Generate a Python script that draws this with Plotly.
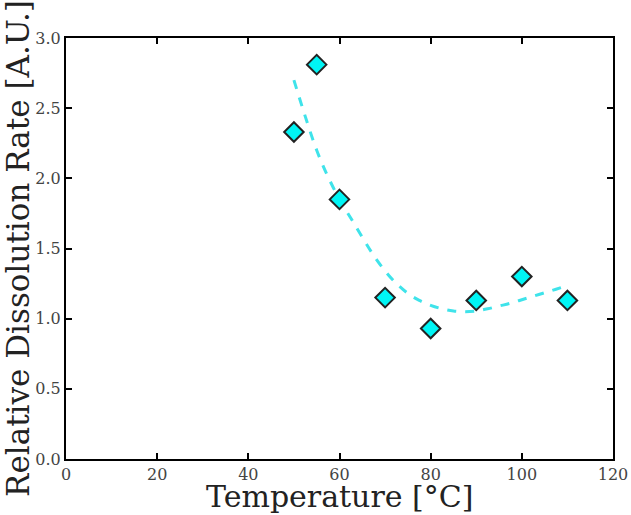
import plotly.graph_objects as go

temps = [50, 55, 60, 70, 80, 90, 100, 110]
rates = [2.33, 2.81, 1.85, 1.15, 0.93, 1.13, 1.30, 1.13]

fit_x = [50, 52.5, 55, 57.5, 60, 62.5, 65, 67.5, 70, 72.5, 75, 77.5, 80,
         82.5, 85, 87.5, 90, 92.5, 95, 97.5, 100, 102.5, 105, 107.5, 110]
fit_y = [2.70, 2.44, 2.20, 2.01, 1.85, 1.715, 1.58, 1.45, 1.34, 1.25, 1.18, 1.13, 1.095,
         1.07, 1.055, 1.05, 1.055, 1.07, 1.09, 1.11, 1.135, 1.16, 1.185, 1.21, 1.235]

x_ticks = [0, 20, 40, 60, 80, 100, 120]
y_ticks = [0.0, 0.5, 1.0, 1.5, 2.0, 2.5, 3.0]

x_title = "Temperature [°C]"
y_title = "Relative Dissolution Rate [A.U.]"

fig = go.Figure()
fig.add_trace(go.Scatter(
    x=fit_x, y=fit_y, mode="lines",
    line=dict(color="#3fe3ea", width=3, dash="dash", shape="spline"),
    hoverinfo="skip", showlegend=False))
fig.add_trace(go.Scatter(
    x=temps, y=rates, mode="markers",
    marker=dict(symbol="diamond", size=15, color="#00f5f5",
                line=dict(color="#222222", width=2)),
    showlegend=False))

font = "DejaVu Serif, Liberation Serif, serif"
axis_common = dict(
    showgrid=False, zeroline=False, showline=True, linecolor="black", linewidth=2,
    mirror="ticks", ticks="inside", ticklen=6, tickwidth=2, tickcolor="black",
    tickfont=dict(family=font, size=16, color="#444444"), automargin=False,
)
fig.update_xaxes(range=[0, 120], tickvals=x_ticks, ticktext=[str(v) for v in x_ticks],
                 **axis_common)
fig.update_yaxes(range=[0, 3.0], tickvals=y_ticks, ticktext=[f"{v:.1f}" for v in y_ticks],
                 title=dict(text=y_title, font=dict(family=font, size=31, color="#222222"), standoff=2),
                 **axis_common)
fig.add_annotation(text=x_title, xref="paper", yref="paper", x=0.5, y=0,
                   xanchor="center", yanchor="middle", yshift=-37, showarrow=False,
                   font=dict(family=font, size=30, color="#222222"))
fig.update_layout(
    width=631, height=515,
    margin=dict(l=66, r=18, t=38, b=56),
    plot_bgcolor="white", paper_bgcolor="white",
)
fig.write_html("out.html")
